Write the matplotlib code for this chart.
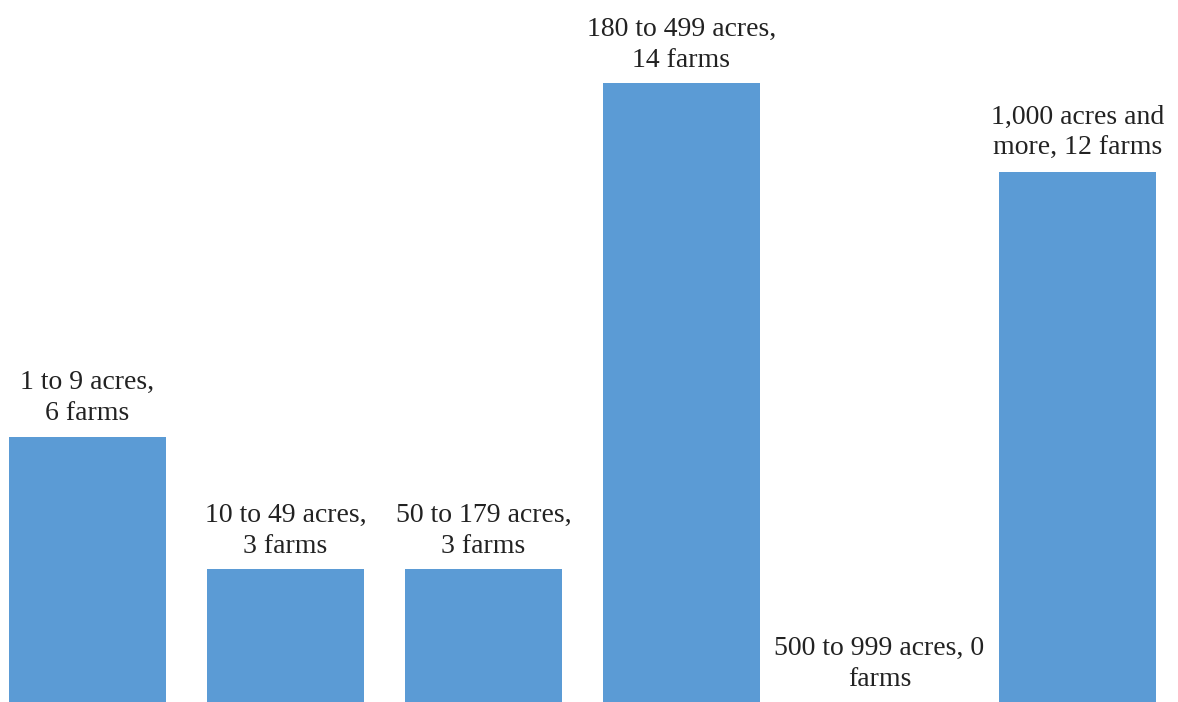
import numpy as np
import matplotlib.pyplot as plt

# farm size classes and counts
labels = ["1 to 9 acres,\n6 farms",
          "10 to 49 acres,\n3 farms",
          "50 to 179 acres,\n3 farms",
          "180 to 499 acres,\n14 farms",
          "500 to 999 acres, 0\nfarms",
          "1,000 acres and\nmore, 12 farms"]
farms = [6, 3, 3, 14, 0, 12]

fig = plt.figure(figsize=(11.78, 7.02), dpi=100)
ax = fig.add_axes([0, 0, 1, 1])

x = np.arange(len(farms))
bars = ax.bar(x, farms, width=0.79, color="#5B9BD5")

for rect, lab in zip(bars, labels):
    ax.annotate(lab, (rect.get_x() + rect.get_width() / 2, rect.get_height()),
                xytext=(0, 7.5), textcoords="offset points",
                ha="center", va="bottom", fontsize=20,
                family="Liberation Serif", linespacing=1.32, color="#222222")

ax.set_xlim(-0.442, 5.508)
ax.set_ylim(0, 15.88)
ax.axis("off")

fig.savefig("out.png", dpi=100)
